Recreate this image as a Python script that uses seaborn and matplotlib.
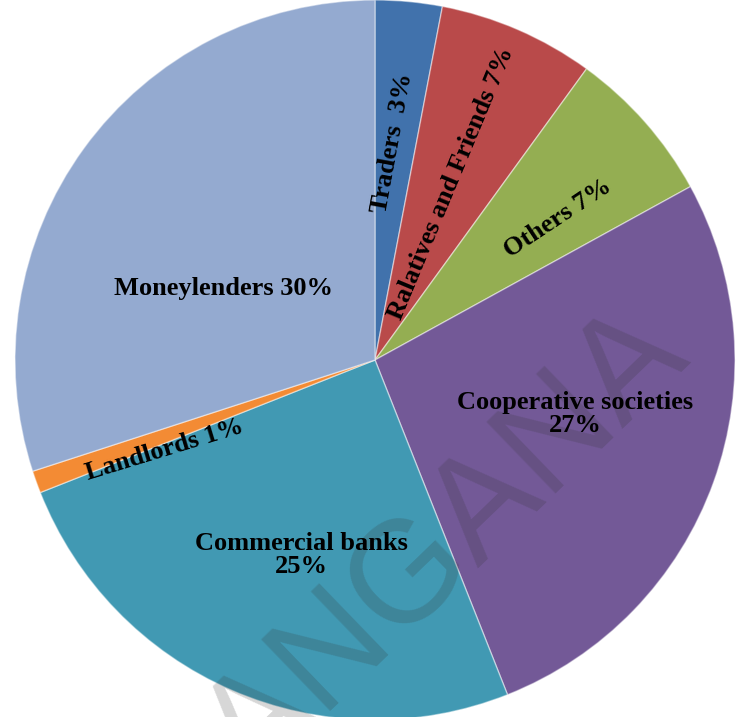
import matplotlib
matplotlib.use("Agg")
import matplotlib.pyplot as plt
import seaborn as sns

# sources of credit, clockwise from 12 o'clock
sources = ['Traders', 'Relatives and Friends', 'Others', 'Cooperative societies',
           'Commercial banks', 'Landlords', 'Moneylenders']
shares = [3, 7, 7, 27, 25, 1, 30]
label_texts = ['Traders  3%', 'Ralatives and Friends 7%', 'Others 7%',
               'Cooperative societies\n27%', 'Commercial banks\n25%',
               'Landlords 1%', 'Moneylenders 30%']
slice_colors = ['#4172ac', '#b94a4a', '#94ae52', '#735997',
                '#4199b3', '#f38b34', '#94aad0']

sns.set_theme(style='white')
plt.rcParams['font.family'] = ['Liberation Serif', 'DejaVu Serif']

W, H = 747, 717
fig = plt.figure(figsize=(W / 100, H / 100), dpi=100)
ax = fig.add_axes([0, 0, 1, 1])

cx, cy, r = 375, H - 360, 360
wedges, _ = ax.pie(shares, colors=sns.color_palette(slice_colors), startangle=90,
                   counterclock=False, center=(cx, cy), radius=r,
                   wedgeprops=dict(edgecolor=(1, 1, 1, 0.45), linewidth=1))
ax.set_xlim(0, W)
ax.set_ylim(0, H)
ax.set_aspect('equal')
ax.axis('off')

# watermark (baseline centre of the word)
ax.text(377, H - 663, 'TELANGANA', family='Liberation Sans', fontsize=104,
        color=(0.2, 0.2, 0.2), alpha=0.2, rotation=44, rotation_mode='anchor',
        ha='center', va='baseline', zorder=3)

# label placement (image pixel coords) and rotation
label_pos = [(392, 143), (451, 183), (558, 218), (575, 414),
             (301, 555), (165, 450), (224, 288)]
label_rot = [79.6, 67.4, 33.6, 0, 0, 17, 0]
for txt, (x, y), rot in zip(label_texts, label_pos, label_rot):
    ax.text(x, H - y, txt, fontsize=19, fontweight='bold', color='black',
            ha='center', va='center', rotation=rot, rotation_mode='anchor',
            linespacing=0.95, zorder=5)

fig.savefig('out.png', dpi=100)
